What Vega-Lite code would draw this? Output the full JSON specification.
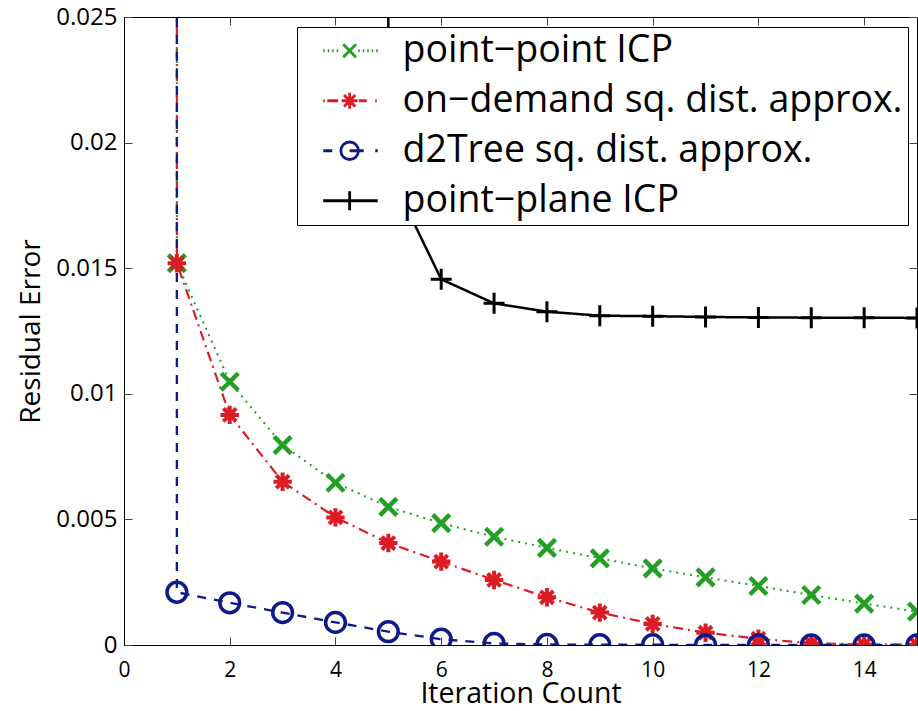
{
  "$schema": "https://vega.github.io/schema/vega-lite/v6.json",
  "width": 793,
  "height": 628,
  "autosize": {"type": "none"},
  "padding": {"left": 124, "top": 17, "right": 1, "bottom": 66},
  "background": "white",
  "config": {
    "font": "Open Sans",
    "view": {"stroke": "black", "strokeWidth": 1},
    "axis": {
      "labelFont": "Open Sans",
      "titleFont": "Open Sans",
      "labelColor": "black",
      "titleColor": "black",
      "domainColor": "black",
      "tickColor": "#444",
      "tickSize": -8,
      "grid": false,
      "titleFontWeight": "normal"
    },
    "legend": {"labelFont": "Open Sans"}
  },
  "data": {
    "values": [
      {"s": "point−point ICP", "o": 0, "x": 1, "y": 0.05},
      {"s": "point−point ICP", "o": 1, "x": 1, "y": 0.0152},
      {"s": "point−point ICP", "o": 2, "x": 2, "y": 0.01048},
      {"s": "point−point ICP", "o": 3, "x": 3, "y": 0.00796},
      {"s": "point−point ICP", "o": 4, "x": 4, "y": 0.00646},
      {"s": "point−point ICP", "o": 5, "x": 5, "y": 0.0055},
      {"s": "point−point ICP", "o": 6, "x": 6, "y": 0.00485},
      {"s": "point−point ICP", "o": 7, "x": 7, "y": 0.00431},
      {"s": "point−point ICP", "o": 8, "x": 8, "y": 0.00387},
      {"s": "point−point ICP", "o": 9, "x": 9, "y": 0.00345},
      {"s": "point−point ICP", "o": 10, "x": 10, "y": 0.00305},
      {"s": "point−point ICP", "o": 11, "x": 11, "y": 0.00269},
      {"s": "point−point ICP", "o": 12, "x": 12, "y": 0.00235},
      {"s": "point−point ICP", "o": 13, "x": 13, "y": 0.00199},
      {"s": "point−point ICP", "o": 14, "x": 14, "y": 0.00165},
      {"s": "point−point ICP", "o": 15, "x": 15, "y": 0.00133},
      {"s": "on−demand sq. dist. approx.", "o": 0, "x": 1, "y": 0.05},
      {"s": "on−demand sq. dist. approx.", "o": 1, "x": 1, "y": 0.0152},
      {"s": "on−demand sq. dist. approx.", "o": 2, "x": 2, "y": 0.00916},
      {"s": "on−demand sq. dist. approx.", "o": 3, "x": 3, "y": 0.0065},
      {"s": "on−demand sq. dist. approx.", "o": 4, "x": 4, "y": 0.00508},
      {"s": "on−demand sq. dist. approx.", "o": 5, "x": 5, "y": 0.00406},
      {"s": "on−demand sq. dist. approx.", "o": 6, "x": 6, "y": 0.00332},
      {"s": "on−demand sq. dist. approx.", "o": 7, "x": 7, "y": 0.00259},
      {"s": "on−demand sq. dist. approx.", "o": 8, "x": 8, "y": 0.0019},
      {"s": "on−demand sq. dist. approx.", "o": 9, "x": 9, "y": 0.00129},
      {"s": "on−demand sq. dist. approx.", "o": 10, "x": 10, "y": 0.00084},
      {"s": "on−demand sq. dist. approx.", "o": 11, "x": 11, "y": 0.00049},
      {"s": "on−demand sq. dist. approx.", "o": 12, "x": 12, "y": 0.00025},
      {"s": "on−demand sq. dist. approx.", "o": 13, "x": 13, "y": 0.00007},
      {"s": "on−demand sq. dist. approx.", "o": 14, "x": 14, "y": 0.00002},
      {"s": "on−demand sq. dist. approx.", "o": 15, "x": 15, "y": 0.00001},
      {"s": "d2Tree sq. dist. approx.", "o": 0, "x": 1, "y": 0.05},
      {"s": "d2Tree sq. dist. approx.", "o": 1, "x": 1, "y": 0.0021},
      {"s": "d2Tree sq. dist. approx.", "o": 2, "x": 2, "y": 0.00168},
      {"s": "d2Tree sq. dist. approx.", "o": 3, "x": 3, "y": 0.00129},
      {"s": "d2Tree sq. dist. approx.", "o": 4, "x": 4, "y": 0.0009},
      {"s": "d2Tree sq. dist. approx.", "o": 5, "x": 5, "y": 0.00053},
      {"s": "d2Tree sq. dist. approx.", "o": 6, "x": 6, "y": 0.00023},
      {"s": "d2Tree sq. dist. approx.", "o": 7, "x": 7, "y": 0.00006},
      {"s": "d2Tree sq. dist. approx.", "o": 8, "x": 8, "y": 0.00002},
      {"s": "d2Tree sq. dist. approx.", "o": 9, "x": 9, "y": 0.00001},
      {"s": "d2Tree sq. dist. approx.", "o": 10, "x": 10, "y": 0.00001},
      {"s": "d2Tree sq. dist. approx.", "o": 11, "x": 11, "y": 0.0},
      {"s": "d2Tree sq. dist. approx.", "o": 12, "x": 12, "y": 0.0},
      {"s": "d2Tree sq. dist. approx.", "o": 13, "x": 13, "y": 0.0},
      {"s": "d2Tree sq. dist. approx.", "o": 14, "x": 14, "y": 0.0},
      {"s": "d2Tree sq. dist. approx.", "o": 15, "x": 15, "y": 0.0},
      {"s": "point−plane ICP", "o": 4, "x": 5, "y": 0.05},
      {"s": "point−plane ICP", "o": 5, "x": 5, "y": 0.0189},
      {"s": "point−plane ICP", "o": 6, "x": 6, "y": 0.01456},
      {"s": "point−plane ICP", "o": 7, "x": 7, "y": 0.0136},
      {"s": "point−plane ICP", "o": 8, "x": 8, "y": 0.01327},
      {"s": "point−plane ICP", "o": 9, "x": 9, "y": 0.01311},
      {"s": "point−plane ICP", "o": 10, "x": 10, "y": 0.01309},
      {"s": "point−plane ICP", "o": 11, "x": 11, "y": 0.01306},
      {"s": "point−plane ICP", "o": 12, "x": 12, "y": 0.01304},
      {"s": "point−plane ICP", "o": 13, "x": 13, "y": 0.01303},
      {"s": "point−plane ICP", "o": 14, "x": 14, "y": 0.01303},
      {"s": "point−plane ICP", "o": 15, "x": 15, "y": 0.01302}
    ]
  },
  "layer": [
    {
      "mark": {"type": "line", "clip": true},
      "encoding": {
        "x": {
          "field": "x", "type": "quantitative",
          "scale": {"domain": [0, 15], "nice": false, "zero": false},
          "axis": {
            "orient": "bottom", "title": "Iteration Count", "values": [0, 2, 4, 6, 8, 10, 12, 14],
            "labelFontSize": 21, "titleFontSize": 28.5, "labelPadding": 22,
            "titleBaseline": "alphabetic", "titleY": 57,
            "labelFlush": false
          }
        },
        "y": {
          "field": "y", "type": "quantitative",
          "scale": {"domain": [0, 0.025], "nice": false},
          "axis": {
            "orient": "left", "title": "Residual Error", "values": [0, 0.005, 0.01, 0.015, 0.02, 0.025],
            "format": ".3~f", "labelFontSize": 24, "titleFontSize": 28, "labelPadding": 15, "titlePadding": 10,
            "labelFlush": false
          }
        },
        "order": {"field": "o", "type": "quantitative"},
        "color": {
          "field": "s", "type": "nominal",
          "scale": {
            "domain": ["point−point ICP", "on−demand sq. dist. approx.", "d2Tree sq. dist. approx.", "point−plane ICP"],
            "range": ["#23a023", "#dc1c24", "#0d1a8a", "#000000"]
          },
          "legend": null
        },
        "strokeDash": {
          "field": "s", "type": "nominal",
          "scale": {
            "domain": ["point−point ICP", "on−demand sq. dist. approx.", "d2Tree sq. dist. approx.", "point−plane ICP"],
            "range": [[2, 5], [10, 5, 2, 5], [9, 8], [1, 0]]
          },
          "legend": null
        },
        "strokeWidth": {
          "field": "s", "type": "nominal",
          "scale": {
            "domain": ["point−point ICP", "on−demand sq. dist. approx.", "d2Tree sq. dist. approx.", "point−plane ICP"],
            "range": [2, 2.5, 3, 3.5]
          },
          "legend": null
        }
      }
    },
    {
      "mark": {"type": "point", "clip": true, "filled": false, "opacity": 1},
      "encoding": {
        "x": {"field": "x", "type": "quantitative", "axis": null},
        "y": {"field": "y", "type": "quantitative", "axis": null},
        "color": {
          "field": "s", "type": "nominal",
          "scale": {
            "domain": ["point−point ICP", "on−demand sq. dist. approx.", "d2Tree sq. dist. approx.", "point−plane ICP"],
            "range": ["#23a023", "#dc1c24", "#0d1a8a", "#000000"]
          },
          "legend": null
        },
        "shape": {
          "field": "s", "type": "nominal",
          "scale": {
            "domain": ["point−point ICP", "on−demand sq. dist. approx.", "d2Tree sq. dist. approx.", "point−plane ICP"],
            "range": ["M-1,-1L1,1M-1,1L1,-1", "M0,-1V1M-1,0H1M-0.7,-0.7L0.7,0.7M-0.7,0.7L0.7,-0.7", "circle", "M0,-1V1M-1,0H1"]
          },
          "legend": null
        },
        "size": {
          "field": "s", "type": "nominal",
          "scale": {
            "domain": ["point−point ICP", "on−demand sq. dist. approx.", "d2Tree sq. dist. approx.", "point−plane ICP"],
            "range": [289, 441, 484, 576]
          },
          "legend": null
        },
        "strokeWidth": {
          "field": "s", "type": "nominal",
          "scale": {
            "domain": ["point−point ICP", "on−demand sq. dist. approx.", "d2Tree sq. dist. approx.", "point−plane ICP"],
            "range": [4.5, 3, 3, 3.5]
          },
          "legend": null
        }
      }
    },
    {
      "transform": [{"filter": "datum.o < 0"}],
      "mark": {"type": "point", "filled": false},
      "encoding": {
        "x": {"field": "x", "type": "quantitative", "axis": null},
        "y": {"field": "y", "type": "quantitative", "axis": null},
        "color": {
          "field": "s", "type": "nominal",
          "scale": {
            "domain": ["point−point ICP", "on−demand sq. dist. approx.", "d2Tree sq. dist. approx.", "point−plane ICP"],
            "range": ["#23a023", "#dc1c24", "#0d1a8a", "#000000"]
          },
          "legend": {
            "orient": "none",
            "legendX": 173,
            "legendY": 10,
            "title": null,
            "fillColor": "white",
            "strokeColor": "black",
            "padding": 5,
            "labelFontSize": 37.5,
            "labelColor": "black",
            "labelOffset": 63,
            "rowPadding": 11,
            "symbolSize": 100,
            "symbolStrokeWidth": 2.8,
            "symbolOpacity": 1,
            "labelLimit": 0
          }
        },
        "shape": {
          "field": "s", "type": "nominal",
          "scale": {
            "domain": ["point−point ICP", "on−demand sq. dist. approx.", "d2Tree sq. dist. approx.", "point−plane ICP"],
            "range": [
              "M0.5,0h0.3M1.4,0h0.3M2.3,0h0.3M3.2,0h0.3M4.5,-1.3L7.06,1.3M4.5,1.3L7.06,-1.3M7.5,0h0.3M8.4,0h0.3M9.3,0h0.3M10.2,0h0.3M11.1,0h0.3",
              "M0.5,0h0.3M1.3,0H3.5M5.78,-1.6V1.6M4.18,0H7.38M4.65,-1.13L6.91,1.13M4.65,1.13L6.91,-1.13M7.6,0H9.2M10.9,0h0.3",
              "M0.5,0H2.3M4.03,0a1.75,1.75 0 1,1 3.5,0a1.75,1.75 0 1,1 -3.5,0M5.78,0H8.6M10.9,0H11.4",
              "M0.5,0H11.4M5.78,-1.9V1.9"
            ]
          },
          "legend": {
            "orient": "none",
            "legendX": 173,
            "legendY": 10,
            "title": null,
            "fillColor": "white",
            "strokeColor": "black",
            "padding": 5,
            "labelFontSize": 37.5,
            "labelColor": "black",
            "labelOffset": 63,
            "rowPadding": 11,
            "symbolSize": 100,
            "symbolStrokeWidth": 2.8,
            "labelLimit": 0
          }
        }
      }
    },
    {
      "mark": {"type": "point", "opacity": 0},
      "encoding": {
        "x": {
          "field": "x", "type": "quantitative",
          "axis": {"orient": "top", "title": null, "labels": false, "domain": false, "values": [0, 2, 4, 6, 8, 10, 12, 14]}
        },
        "y": {
          "field": "y", "type": "quantitative",
          "axis": {"orient": "right", "title": null, "labels": false, "domain": false, "values": [0, 0.005, 0.01, 0.015, 0.02, 0.025]}
        }
      }
    }
  ],
  "resolve": {
    "axis": {"x": "independent", "y": "independent"},
    "scale": {"strokeWidth": "independent", "shape": "independent", "color": "independent", "size": "independent"}
  }
}
